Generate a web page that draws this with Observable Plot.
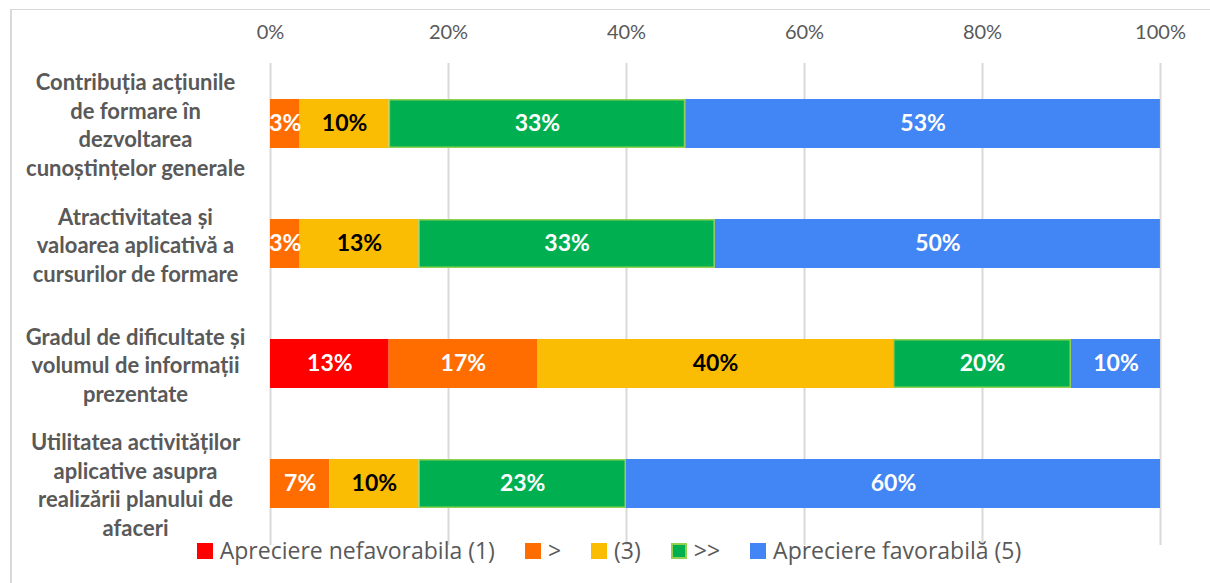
<!DOCTYPE html>
<html>
<head>
<meta charset="utf-8">
<script src="https://cdn.jsdelivr.net/npm/d3@7"></script>
<script src="https://cdn.jsdelivr.net/npm/@observablehq/plot@0.6"></script>
<style>
  html, body { margin: 0; padding: 0; background: #fff; }
  #wrap { position: relative; width: 1210px; height: 583px; overflow: hidden; background: #fff; }
  #frame { position: absolute; left: 10px; top: 9px; width: 1400px; height: 800px;
           border-left: 2px solid #d9d9d9; border-top: 1px solid #d9d9d9; box-sizing: border-box; }
  #chart { position: absolute; left: 0; top: 0; }
  #legend { position: absolute; left: 0; top: 535px; width: 1218px; display: flex; justify-content: center;
            align-items: center; font-family: "Open Sans", sans-serif; font-size: 23px; line-height: 31px; color: #595959; }
  .item { display: flex; align-items: center; margin: 0 15px; }
  .sw { width: 16px; height: 16px; box-sizing: border-box; margin-right: 7px; }
</style>
</head>
<body>
<div id="wrap">
  <div id="frame"></div>
  <div id="chart"></div>
  <div id="legend"></div>
</div>
<script>
// Categories (line breaks as displayed)
const categories = [
  "Contribuția acțiunile\nde formare în\ndezvoltarea\ncunoștințelor generale",
  "Atractivitatea și\nvaloarea aplicativă a\ncursurilor de formare",
  "Gradul de dificultate și\nvolumul de informații\nprezentate",
  "Utilitatea activităților\naplicative asupra\nrealizării planului de\nafaceri"
];
// Series (stack order)
const seriesNames = ["Apreciere nefavorabila (1)", ">", "(3)", ">>", "Apreciere favorabilă (5)"];
const seriesColors = ["#FF0000", "#FF6D01", "#FBBC04", "#00B050", "#4285F4"];
const seriesStroke = ["#FF0000", "#FF6D01", "#FBBC04", "#92D050", "#4285F4"];
const labelColors = ["#FFFFFF", "#FFFFFF", "#000000", "#FFFFFF", "#FFFFFF"];
// Percent values per series, one per category
const nefavorabila = [0, 0, 13.33, 0];
const gt = [3.33, 3.33, 16.67, 6.67];
const trei = [10, 13.33, 40, 10];
const gtgt = [33.33, 33.33, 20, 23.33];
const favorabila = [53.33, 50, 10, 60];
const xTicks = [0, 20, 40, 60, 80, 100];

const seriesValues = [nefavorabila, gt, trei, gtgt, favorabila];
const data = [];
seriesNames.forEach((s, si) => {
  categories.forEach((c, ci) => {
    const v = seriesValues[si][ci];
    if (v > 0) data.push({cat: c, series: s, si, value: v});
  });
});

const chart = Plot.plot({
  width: 1210,
  height: 548,
  marginLeft: 270,
  marginRight: 50,
  marginTop: 63,
  marginBottom: 3,
  x: {domain: [0, 100], label: null},
  y: {domain: categories, paddingInner: 0.59, paddingOuter: 0.295, label: null},
  marks: [
    Plot.gridX(xTicks, {stroke: "#d9d9d9", strokeOpacity: 1, strokeWidth: 2}),
    Plot.axisX(xTicks, {anchor: "top", tickSize: 0, tickPadding: 25, tickFormat: d => d + "%", label: null,
      fontSize: 20, fontFamily: "Lato", fill: "#595959"}),
    Plot.axisY({tickSize: 0, tickPadding: 135, textAnchor: "middle", fontSize: 22, fontWeight: "bold", label: null,
      fontFamily: "Lato", fill: "#595959", lineHeight: 1.3}),
    Plot.barX(data, Plot.stackX({
      x: "value", y: "cat", order: "si",
      fill: d => seriesColors[d.si],
      stroke: d => seriesStroke[d.si],
      strokeWidth: 1.5, insetLeft: 0.75, insetRight: 0.75, insetTop: 0.75, insetBottom: 0.75
    })),
    Plot.text(data, Plot.stackX({
      x: "value", y: "cat", order: "si",
      text: d => Math.round(d.value) + "%",
      fill: d => labelColors[d.si],
      fontSize: 23, fontWeight: "bold", fontFamily: "Lato"
    }))
  ]
});
document.getElementById("chart").appendChild(chart);

const legend = document.getElementById("legend");
seriesNames.forEach((s, i) => {
  const item = document.createElement("div");
  item.className = "item";
  const sw = document.createElement("div");
  sw.className = "sw";
  sw.style.background = seriesColors[i];
  if (i === 3) sw.style.border = "2px solid #92D050";
  const t = document.createElement("span");
  t.textContent = s;
  item.appendChild(sw);
  item.appendChild(t);
  legend.appendChild(item);
});
</script>
</body>
</html>
